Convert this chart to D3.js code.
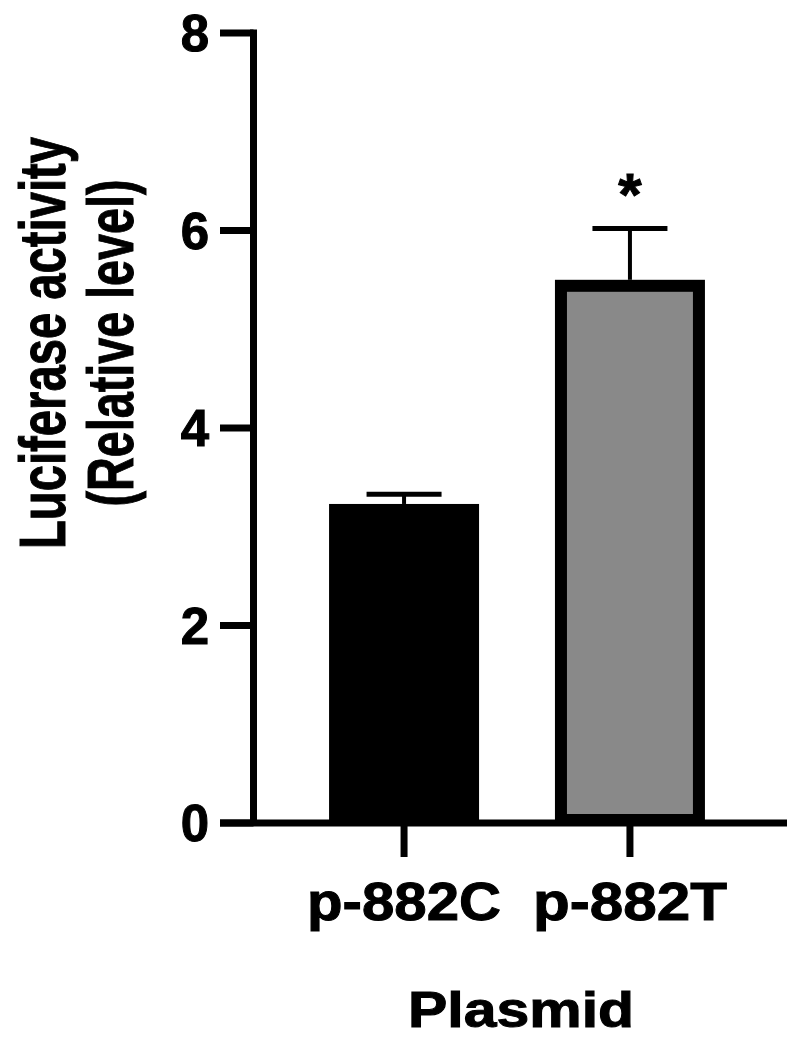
<!DOCTYPE html>
<html>
<head>
<meta charset="utf-8">
<script src="https://cdn.jsdelivr.net/npm/d3@7"></script>
<style>
  body { margin: 0; background: #fff; }
  text { font-family: "Liberation Sans", Arial, sans-serif; font-weight: bold; fill: #000; stroke: #000; stroke-width: 1; }
</style>
</head>
<body>
<div id="chart"></div>
<script>
var plasmids = ["p-882C", "p-882T"];
var means = [3.17, 5.44];
var sems = [0.16, 0.58];
var fills = ["#000000", "#898989"];
var stars = ["", "*"];
var yTicks = [0, 2, 4, 6, 8];

var width = 800, height = 1053;
var svg = d3.select("#chart").append("svg")
	.attr("width", width)
	.attr("height", height);

var y = d3.scaleLinear().domain([0, 8]).range([823, 33]);
var x = d3.scaleBand().domain(plasmids).range([250, 784])
	.paddingInner(0.336).paddingOuter(0.35);

var axisX0 = 253.5;
var lineW = 7;
var border = 12;

// bars
svg.selectAll(".bar")
	.data(plasmids)
	.enter().append("rect")
	.attr("class", "bar")
	.attr("x", function(d){ return x(d) + border/2; })
	.attr("width", x.bandwidth() - border)
	.attr("y", function(d, i){ return y(means[i]); })
	.attr("height", function(d, i){ return y(0) - y(means[i]) - 3; })
	.attr("fill", function(d, i){ return fills[i]; })
	.attr("stroke", "#000")
	.attr("stroke-width", border);

// error bars (upper only)
plasmids.forEach(function(d, i){
	var cx = x(d) + x.bandwidth()/2;
	svg.append("line")
		.attr("x1", cx).attr("x2", cx)
		.attr("y1", y(means[i]) - border/2)
		.attr("y2", y(means[i] + sems[i]))
		.attr("stroke", "#000").attr("stroke-width", 4);
	svg.append("line")
		.attr("x1", cx - x.bandwidth()/4).attr("x2", cx + x.bandwidth()/4)
		.attr("y1", y(means[i] + sems[i]))
		.attr("y2", y(means[i] + sems[i]))
		.attr("stroke", "#000").attr("stroke-width", 5);
	if(stars[i]){
		svg.append("text")
			.attr("x", cx)
			.attr("y", y(means[i] + sems[i]) - 14)
			.attr("text-anchor", "middle")
			.attr("font-size", 60)
			.text(stars[i]);
	}
});

// y axis
svg.append("line")
	.attr("x1", axisX0).attr("x2", axisX0)
	.attr("y1", y(8) - lineW/2).attr("y2", y(0))
	.attr("stroke", "#000").attr("stroke-width", lineW);
svg.selectAll(".ytick")
	.data(yTicks)
	.enter().append("line")
	.attr("class", "ytick")
	.attr("x1", 220).attr("x2", axisX0)
	.attr("y1", function(d){ return y(d); })
	.attr("y2", function(d){ return y(d); })
	.attr("stroke", "#000").attr("stroke-width", lineW);
svg.selectAll(".ylab")
	.data(yTicks)
	.enter().append("text")
	.attr("class", "ylab")
	.attr("x", 209)
	.attr("y", function(d){ return y(d); })
	.attr("dy", "0.36em")
	.attr("text-anchor", "end")
	.attr("font-size", 51)
	.text(function(d){ return d; });

// x axis
svg.append("line")
	.attr("x1", 220).attr("x2", 787)
	.attr("y1", y(0)).attr("y2", y(0))
	.attr("stroke", "#000").attr("stroke-width", lineW);
svg.selectAll(".xtick")
	.data(plasmids)
	.enter().append("line")
	.attr("class", "xtick")
	.attr("x1", function(d){ return x(d) + x.bandwidth()/2; })
	.attr("x2", function(d){ return x(d) + x.bandwidth()/2; })
	.attr("y1", y(0)).attr("y2", 857)
	.attr("stroke", "#000").attr("stroke-width", lineW);
svg.selectAll(".xlab")
	.data(plasmids)
	.enter().append("text")
	.attr("class", "xlab")
	.attr("x", function(d){ return x(d) + x.bandwidth()/2; })
	.attr("y", 920)
	.attr("text-anchor", "middle")
	.attr("font-size", 54)
	.attr("textLength", 194)
	.attr("lengthAdjust", "spacingAndGlyphs")
	.text(function(d){ return d; });

// axis titles
svg.append("text")
	.attr("x", 521).attr("y", 1027)
	.attr("text-anchor", "middle")
	.attr("font-size", 50)
	.attr("textLength", 226)
	.attr("lengthAdjust", "spacingAndGlyphs")
	.text("Plasmid");

var yTitle = svg.append("g").attr("transform", "translate(0,343) rotate(-90)");
yTitle.append("text")
	.attr("x", 0).attr("y", 65)
	.attr("text-anchor", "middle")
	.attr("font-size", 64)
	.attr("textLength", 412)
	.attr("lengthAdjust", "spacingAndGlyphs")
	.text("Luciferase activity");
yTitle.append("text")
	.attr("x", 0).attr("y", 133)
	.attr("text-anchor", "middle")
	.attr("font-size", 64)
	.attr("textLength", 327)
	.attr("lengthAdjust", "spacingAndGlyphs")
	.text("(Relative level)");
</script>
</body>
</html>
